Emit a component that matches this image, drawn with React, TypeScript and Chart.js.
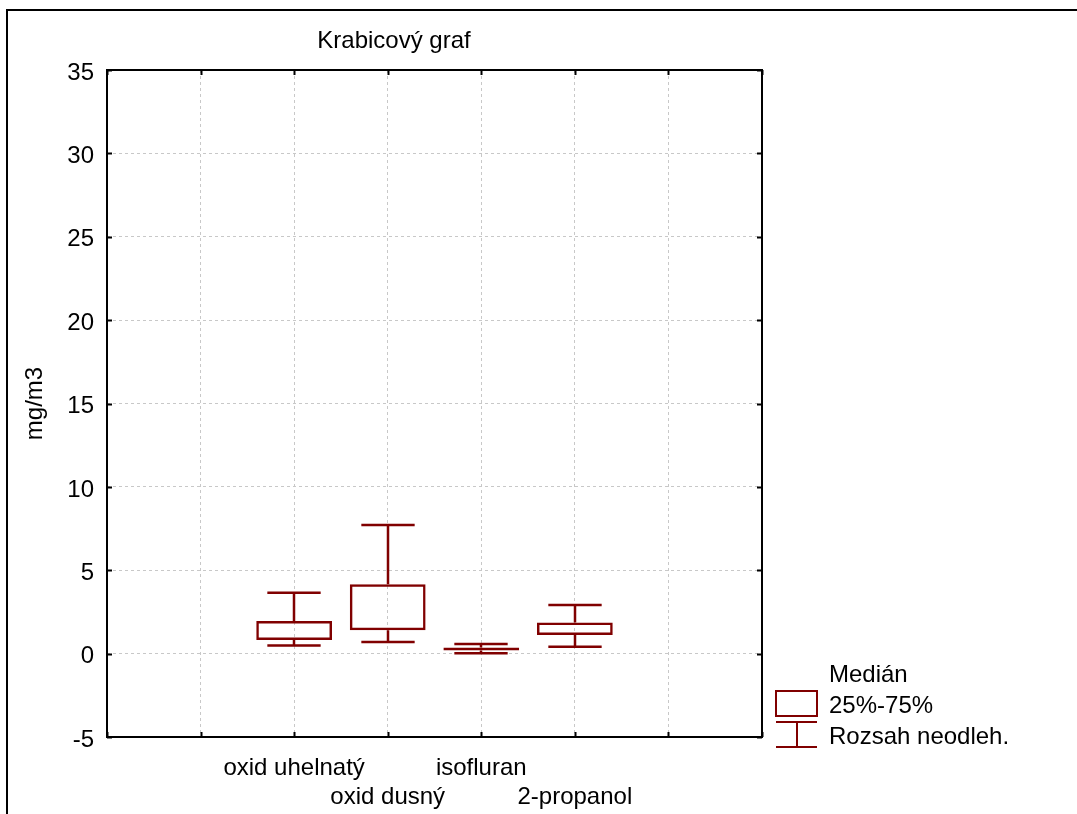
import React, { useEffect, useRef } from 'react';
import { Chart, registerables } from 'chart.js';

Chart.register(...registerables);

// ---- data ----
const categories = ['oxid uhelnatý', 'oxid dusný', 'isofluran', '2-propanol'];
const categoryPositions = [2, 3, 4, 5];
const whiskerMin = [0.48, 0.7, 0.02, 0.41];
const quartile1 = [0.82, 1.4, 0.18, 1.11];
const quartile3 = [1.96, 4.16, 0.36, 1.87];
const whiskerMax = [3.65, 7.71, 0.58, 2.91];
const yTickValues = [-5, 0, 5, 10, 15, 20, 25, 30, 35];
const xGridValues = [0, 1, 2, 3, 4, 5, 6, 7];
const legendLabels = ['Medián', '25%-75%', 'Rozsah neodleh.'];
const chartTitle = 'Krabicový graf';
const yAxisTitle = 'mg/m3';

const FONT = '"Liberation Sans", Arial, Helvetica, sans-serif';
const FONT_SIZE = 24;
const BOX_COLOR = '#800000';
const GRID_COLOR = '#c8c8c8';

const boxPlotPlugin = {
  id: 'boxPlotExtras',
  beforeDatasetsDraw(chart: any) {
    const { ctx, scales } = chart;
    const xs = scales.x;
    const ys = scales.y;
    const capHalf = (xs.getPixelForValue(1) - xs.getPixelForValue(0)) * 0.285;
    ctx.save();
    ctx.strokeStyle = BOX_COLOR;
    ctx.lineWidth = 2.5;
    categoryPositions.forEach((pos, i) => {
      const cx = Math.round(xs.getPixelForValue(pos));
      const yMax = ys.getPixelForValue(whiskerMax[i]);
      const yQ3 = ys.getPixelForValue(quartile3[i]);
      const yQ1 = ys.getPixelForValue(quartile1[i]);
      const yMin = ys.getPixelForValue(whiskerMin[i]);
      ctx.beginPath();
      ctx.moveTo(cx, yMax);
      ctx.lineTo(cx, yQ3);
      ctx.moveTo(cx, yQ1);
      ctx.lineTo(cx, yMin);
      ctx.moveTo(cx - capHalf, yMax);
      ctx.lineTo(cx + capHalf, yMax);
      ctx.moveTo(cx - capHalf, yMin);
      ctx.lineTo(cx + capHalf, yMin);
      ctx.stroke();
    });
    ctx.restore();
  },
  afterDraw(chart: any) {
    const { ctx, chartArea, scales } = chart;
    const xs = scales.x;
    const ys = scales.y;
    ctx.save();
    // plot frame
    ctx.strokeStyle = '#000';
    ctx.lineWidth = 2;
    ctx.strokeRect(chartArea.left, chartArea.top, chartArea.right - chartArea.left, chartArea.bottom - chartArea.top);
    // inward ticks
    ctx.beginPath();
    xGridValues.forEach((v) => {
      const px = Math.round(xs.getPixelForValue(v)) + 0.5;
      ctx.moveTo(px, chartArea.bottom);
      ctx.lineTo(px, chartArea.bottom - 5);
      ctx.moveTo(px, chartArea.top);
      ctx.lineTo(px, chartArea.top + 5);
    });
    yTickValues.forEach((v) => {
      const py = Math.round(ys.getPixelForValue(v)) + 0.5;
      ctx.moveTo(chartArea.left, py);
      ctx.lineTo(chartArea.left + 5, py);
      ctx.moveTo(chartArea.right, py);
      ctx.lineTo(chartArea.right - 5, py);
    });
    ctx.lineWidth = 2;
    ctx.stroke();

    // title
    ctx.fillStyle = '#000';
    ctx.font = `${FONT_SIZE}px ${FONT}`;
    ctx.textAlign = 'center';
    ctx.textBaseline = 'alphabetic';
    ctx.fillText(chartTitle, 394, 48);

    // legend
    const lx0 = chartArea.right + 14;
    const lx1 = lx0 + 41;
    const tx = chartArea.right + 67;
    ctx.textAlign = 'left';
    ctx.fillText(legendLabels[0], tx, 682);
    ctx.fillText(legendLabels[1], tx, 713);
    ctx.fillText(legendLabels[2], tx, 744);
    ctx.strokeStyle = BOX_COLOR;
    ctx.lineWidth = 2;
    ctx.strokeRect(lx0, 691, lx1 - lx0, 25);
    const mid = Math.round((lx0 + lx1) / 2);
    ctx.beginPath();
    ctx.moveTo(lx0, 722);
    ctx.lineTo(lx1, 722);
    ctx.moveTo(mid, 722);
    ctx.lineTo(mid, 747);
    ctx.moveTo(lx0, 747);
    ctx.lineTo(lx1, 747);
    ctx.stroke();
    ctx.restore();
  },
};

export default function App() {
  const canvasRef = useRef<HTMLCanvasElement | null>(null);

  useEffect(() => {
    const canvas = canvasRef.current;
    if (!canvas) return;
    const chart = new Chart(canvas, {
      type: 'bar',
      data: {
        datasets: [
          {
            data: categoryPositions.map((x, i) => ({ x, y: [quartile1[i], quartile3[i]] })) as any,
            backgroundColor: 'rgba(255,255,255,0)',
            borderColor: BOX_COLOR,
            borderWidth: 2.5,
            borderSkipped: false,
            barPercentage: 1,
            categoryPercentage: 0.81,
          },
        ],
      },
      options: {
        animation: false,
        responsive: false,
        maintainAspectRatio: false,
        devicePixelRatio: 1,
        layout: { padding: { left: 0, top: 70, right: 315, bottom: 0 } },
        plugins: {
          legend: { display: false },
          tooltip: { enabled: false },
          title: { display: false },
        },
        scales: {
          x: {
            type: 'linear',
            min: 0,
            max: 7,
            offset: false,
            afterFit: (s: any) => {
              s.height = 77;
            },
            afterBuildTicks: (s: any) => {
              s.ticks = xGridValues.map((v) => ({ value: v }));
            },
            ticks: {
              autoSkip: false,
              maxRotation: 0,
              minRotation: 0,
              padding: 17,
              color: '#000',
              font: { family: FONT, size: FONT_SIZE, lineHeight: 1.21 },
              callback: (value: any) => {
                const idx = categoryPositions.indexOf(Number(value));
                if (idx < 0) return '';
                return idx % 2 === 0 ? [categories[idx], ''] : ['', categories[idx]];
              },
            },
            grid: { color: GRID_COLOR, lineWidth: 1, drawTicks: false, offset: false },
            border: { display: false, dash: [3, 3] },
          },
          y: {
            type: 'linear',
            min: -5,
            max: 35,
            afterFit: (s: any) => {
              s.width = 107;
            },
            afterBuildTicks: (s: any) => {
              s.ticks = yTickValues.map((v) => ({ value: v }));
            },
            ticks: {
              padding: 13,
              labelOffset: 3,
              color: '#000',
              font: { family: FONT, size: FONT_SIZE },
            },
            grid: { color: GRID_COLOR, lineWidth: 1, drawTicks: false },
            border: { display: false, dash: [3, 3] },
            title: {
              display: true,
              text: yAxisTitle,
              color: '#000',
              font: { family: FONT, size: FONT_SIZE },
              padding: { top: 21, bottom: 0 },
            },
          },
        },
      },
      plugins: [boxPlotPlugin],
    });
    return () => chart.destroy();
  }, []);

  return (
    <div
      style={{
        position: 'fixed',
        left: 0,
        top: 0,
        width: 1077,
        height: 814,
        overflow: 'hidden',
        background: '#fff',
      }}
    >
      <div
        style={{
          position: 'absolute',
          left: 6,
          top: 9,
          width: 1200,
          height: 1000,
          borderLeft: '2px solid #000',
          borderTop: '2px solid #000',
        }}
      />
      <canvas
        ref={canvasRef}
        width={1077}
        height={814}
        style={{ position: 'absolute', left: 0, top: 0, width: 1077, height: 814 }}
      />
    </div>
  );
}
